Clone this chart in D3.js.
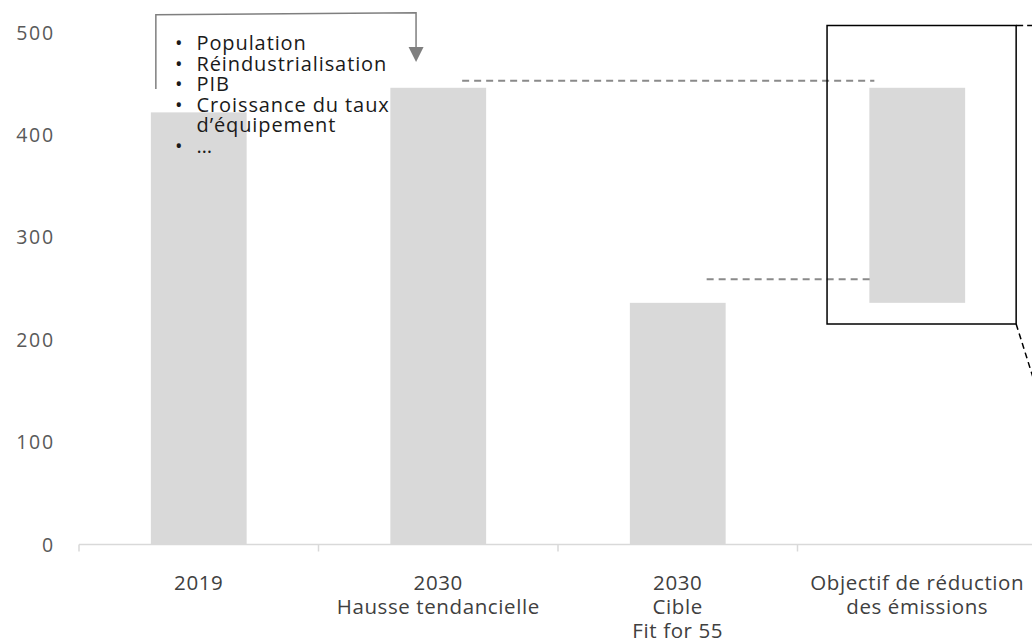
<!DOCTYPE html>
<html>
<head>
<meta charset="utf-8">
<script src="https://cdn.jsdelivr.net/npm/d3@7"></script>
<style>
  html, body { margin: 0; padding: 0; background: #fff; }
  svg { display: block; font-family: "Open Sans", sans-serif; }
</style>
</head>
<body>
<div id="chart"></div>
<script>
// categories and their (multi-line) axis labels
const categories = ["2019", "2030 tendanciel", "2030 cible", "Objectif"];
const categoryLabels = [
  ["2019"],
  ["2030", "Hausse tendancielle"],
  ["2030", "Cible", "Fit for 55"],
  ["Objectif de réduction", "des émissions"]
];
// bar bottoms / tops (the last one floats)
const barBase = [0, 0, 0, 236];
const barTop = [422, 446, 236, 446];
const yTicks = [0, 100, 200, 300, 400, 500];
// drivers of the trend increase
const drivers = ["Population", "Réindustrialisation", "PIB", "Croissance du taux", "d’équipement", "…"];
const driverBullet = [true, true, true, true, false, true];
// dashed guide levels
const guideHigh = 453;
const guideLow = 259;

const W = 1032, H = 643;

const svg = d3.select("#chart")
  .append("svg")
  .attr("width", W)
  .attr("height", H);

const y = d3.scaleLinear().domain([0, 500]).range([544.5, 32.5]);
const x = d3.scaleBand()
  .domain(categories)
  .range([79, 1037])
  .paddingInner(0.6)
  .paddingOuter(0.3);

const step = x.step();
const bw = x.bandwidth();

// y tick labels
svg.append("g")
  .selectAll("text")
  .data(yTicks)
  .enter()
  .append("text")
  .attr("x", 55)
  .attr("y", (d) => y(d))
  .attr("dy", "0.36em")
  .attr("text-anchor", "end")
  .attr("font-size", 19.5)
  .attr("letter-spacing", 1.8)
  .attr("fill", "#595959")
  .text((d) => d);

// bars
svg.append("g")
  .selectAll("rect")
  .data(categories)
  .enter()
  .append("rect")
  .attr("x", (d) => x(d))
  .attr("y", (d, i) => y(barTop[i]))
  .attr("width", bw)
  .attr("height", (d, i) => y(barBase[i]) - y(barTop[i]))
  .attr("fill", "#d9d9d9");

// x axis line and boundary ticks
const axisY = y(0);
svg.append("line")
  .attr("x1", 79).attr("x2", W)
  .attr("y1", axisY).attr("y2", axisY)
  .attr("stroke", "#d9d9d9")
  .attr("stroke-width", 1.5);

svg.append("g")
  .selectAll("line")
  .data(categories)
  .enter()
  .append("line")
  .attr("x1", (d) => x(d) - step * x.paddingOuter())
  .attr("x2", (d) => x(d) - step * x.paddingOuter())
  .attr("y1", axisY)
  .attr("y2", axisY + 7)
  .attr("stroke", "#d9d9d9")
  .attr("stroke-width", 1.5);

// category labels
svg.append("g")
  .selectAll("text")
  .data(categories)
  .enter()
  .append("text")
  .attr("text-anchor", "middle")
  .attr("font-size", 20.5)
  .attr("letter-spacing", 0.6)
  .attr("fill", "#404040")
  .each(function (d, i) {
    const t = d3.select(this);
    categoryLabels[i].forEach((line, j) => {
      t.append("tspan")
        .attr("x", x(d) + bw / 2)
        .attr("y", 589.5 + j * 24)
        .text(line);
    });
  });

// dashed guides to the floating bar
const objX = x(categories[3]);
const guides = [
  { v: guideHigh, x1: x(categories[1]) + bw - 24 },
  { v: guideLow, x1: x(categories[2]) + bw - 19 }
];
svg.append("g")
  .selectAll("line")
  .data(guides)
  .enter()
  .append("line")
  .attr("x1", (d) => d.x1)
  .attr("x2", objX + 5)
  .attr("y1", (d) => y(d.v))
  .attr("y2", (d) => y(d.v))
  .attr("stroke", "#8a8a8a")
  .attr("stroke-width", 2)
  .attr("stroke-dasharray", "7,5");

// zoom box around the floating bar
const boxL = objX - 42.3, boxR = objX + bw + 51;
const boxT = 25.5, boxB = 324;
svg.append("rect")
  .attr("x", boxL)
  .attr("y", boxT)
  .attr("width", boxR - boxL)
  .attr("height", boxB - boxT)
  .attr("fill", "none")
  .attr("stroke", "#000")
  .attr("stroke-width", 1.5);

svg.append("line")
  .attr("x1", boxR).attr("y1", boxT)
  .attr("x2", boxR + 30).attr("y2", boxT)
  .attr("stroke", "#000")
  .attr("stroke-width", 1.5)
  .attr("stroke-dasharray", "7,4");

svg.append("line")
  .attr("x1", boxR).attr("y1", boxB)
  .attr("x2", boxR + 24).attr("y2", boxB + 76)
  .attr("stroke", "#000")
  .attr("stroke-width", 1.5)
  .attr("stroke-dasharray", "6,4");

// arrow from 2019 to 2030 trend
const aL = x(categories[0]) + 5;
const aR = x(categories[1]) + 25.7;
svg.append("path")
  .attr("d", `M${aL},89 L${aL},14.7 L${aR},12.7 L${aR},48`)
  .attr("fill", "none")
  .attr("stroke", "#7f7f7f")
  .attr("stroke-width", 1.5);
svg.append("path")
  .attr("d", `M${aR - 7.5},47 L${aR + 7.5},47 L${aR},62 Z`)
  .attr("fill", "#7f7f7f");

// bullet list of drivers
const list = svg.append("g")
  .attr("font-size", 20)
  .attr("letter-spacing", 0.9)
  .attr("fill", "#1a1a1a");

drivers.forEach((d, i) => {
  const by = 50 + i * 20.6;
  if (driverBullet[i]) {
    list.append("text")
      .attr("x", 175)
      .attr("y", by)
      .text("•");
  }
  list.append("text")
    .attr("x", 196.5)
    .attr("y", by)
    .text(d);
});
</script>
</body>
</html>
